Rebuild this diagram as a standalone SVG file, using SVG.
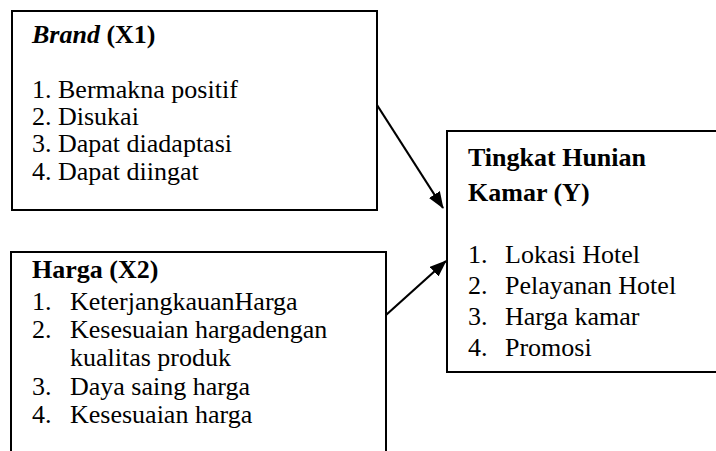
<svg xmlns="http://www.w3.org/2000/svg" width="716" height="451" viewBox="0 0 716 451">
<style>
.box{fill:#fff;stroke:#000;stroke-width:2}
.t{font-family:'Liberation Serif','Times New Roman',serif;font-size:26px;fill:#000}
.b{font-weight:bold}
.con{stroke:#000;stroke-width:2.2;fill:none}
</style>
<defs>
<marker id="ah" viewBox="0 0 17 13" refX="16" refY="6.5" markerWidth="17" markerHeight="13" markerUnits="userSpaceOnUse" orient="auto">
<path d="M0,0 L17,6.5 L0,13 z" fill="#000"/>
</marker>
</defs>
<rect width="716" height="451" fill="#fff"/>
<g id="brand" class="t">
<rect class="box" x="12" y="11" width="365" height="199"/>
<text x="32" y="43" class="b"><tspan font-style="italic">Brand</tspan> (X1)</text>
<text x="32" y="98">1. Bermakna positif</text>
<text x="32" y="125">2. Disukai</text>
<text x="32" y="152">3. Dapat diadaptasi</text>
<text x="32" y="180">4. Dapat diingat</text>
</g>
<g id="harga" class="t">
<path class="box" d="M11,460 V252 H386 V460"/>
<text x="32" y="278" class="b">Harga (X2)</text>
<text x="32" y="310">1.</text><text x="70" y="310">KeterjangkauanHarga</text>
<text x="32" y="338">2.</text><text x="70" y="338">Kesesuaian hargadengan</text>
<text x="70" y="366">kualitas produk</text>
<text x="32" y="395">3.</text><text x="70" y="395">Daya saing harga</text>
<text x="32" y="423">4.</text><text x="70" y="423">Kesesuaian harga</text>
</g>
<g id="hunian" class="t">
<path class="box" d="M725,131 H447 V372 H725"/>
<text x="468" y="166" class="b">Tingkat Hunian</text>
<text x="468" y="201" class="b">Kamar (Y)</text>
<text x="468" y="263">1.</text><text x="505" y="263">Lokasi Hotel</text>
<text x="468" y="294">2.</text><text x="505" y="294">Pelayanan Hotel</text>
<text x="468" y="325">3.</text><text x="505" y="325">Harga kamar</text>
<text x="468" y="356">4.</text><text x="505" y="356">Promosi</text>
</g>
<g id="connectors">
<line class="con" x1="377" y1="105" x2="443" y2="208" marker-end="url(#ah)"/>
<line class="con" x1="386" y1="315" x2="446" y2="261" marker-end="url(#ah)"/>
</g>
</svg>
